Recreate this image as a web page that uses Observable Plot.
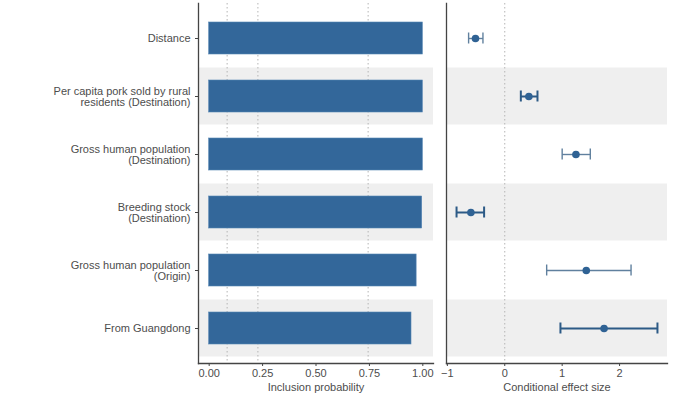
<!DOCTYPE html>
<html>
<head>
<meta charset="utf-8">
<script src="https://cdn.jsdelivr.net/npm/d3@7"></script>
<script src="https://cdn.jsdelivr.net/npm/@observablehq/plot@0.6"></script>
<style>
  html, body { margin: 0; padding: 0; background: #fff; }
  #chart { position: relative; width: 700px; height: 396px; }
  #chart > svg { position: absolute; top: 0; }
</style>
</head>
<body>
<div id="chart"></div>
<script>
// ---- data ----
const categories = [
  "Distance",
  "Per capita pork sold by rural\nresidents (Destination)",
  "Gross human population\n(Destination)",
  "Breeding stock\n(Destination)",
  "Gross human population\n(Origin)",
  "From Guangdong"
];
const inclusionProb = [1.0, 1.0, 1.0, 0.997, 0.971, 0.947];
const effect   = [-0.51, 0.42, 1.24, -0.59, 1.42, 1.73];
const effectLo = [-0.63, 0.28, 1.00, -0.84, 0.73, 0.97];
const effectHi = [-0.38, 0.57, 1.49, -0.36, 2.20, 2.66];
const probTicks = [0, 0.25, 0.5, 0.75, 1];
const probTickLabels = ["0.00", "0.25", "0.50", "0.75", "1.00"];
const effectTicks = [-1, 0, 1, 2];
const effectTickLabels = ["\u22121", "0", "1", "2"];
const probRefLines = [0.084, 0.228, 0.744];
const effectRefLines = [0];
const probDomain = [-0.05, 1.05];
const effectDomain = [-1.015, 2.835];

const rows = categories.map((c, i) => ({
  cat: c, i, p: inclusionProb[i], e: effect[i], lo: effectLo[i], hi: effectHi[i]
}));
const shaded = rows.filter(d => d.i % 2 === 1);

const font = "'Liberation Sans', Arial, Helvetica, sans-serif";
const barColor = "#33679a";
const H = 396, MT = 3, MB = 33;
const yScale = {domain: categories, paddingInner: 0, paddingOuter: 0.1};

const left = Plot.plot({
  width: 440, height: H,
  marginLeft: 198, marginRight: 7, marginTop: MT, marginBottom: MB,
  style: {fontFamily: font, fontSize: "11px", color: "#4d4d4d", background: "transparent"},
  x: {domain: probDomain},
  y: yScale,
  marks: [
    Plot.barX(shaded, {y: "cat", x1: probDomain[0], x2: probDomain[1], fill: "#efefef", insetTop: 0.5, insetBottom: 0.5}),
    Plot.ruleX(probRefLines, {stroke: "#b5b5b5", strokeDasharray: "1.5,2.5", strokeWidth: 1}),
    Plot.barX(rows, {y: "cat", x: "p", fill: barColor, stroke: "#5585b3", strokeWidth: 0.6, insetTop: 13, insetBottom: 13}),
    Plot.axisX({ticks: probTicks, tickFormat: (d, i) => probTickLabels[i], tickSize: 3, tickPadding: 3,
      stroke: "#444", fill: "#4d4d4d", fontSize: 11,
      label: "Inclusion probability", labelAnchor: "center", labelArrow: "none", labelOffset: 27}),
    Plot.axisY({tickSize: 3, tickPadding: 5, stroke: "#444", fill: "#4d4d4d", fontSize: 11, label: null}),
    Plot.frame({anchor: "left", stroke: "#444", strokeWidth: 1.3}),
    Plot.frame({anchor: "bottom", stroke: "#444", strokeWidth: 1.3})
  ]
});
left.style.left = "0px";

const right = Plot.plot({
  width: 260, height: H,
  marginLeft: 6, marginRight: 33, marginTop: MT, marginBottom: MB,
  style: {fontFamily: font, fontSize: "11px", color: "#4d4d4d", background: "transparent"},
  x: {domain: effectDomain},
  y: yScale,
  marks: [
    Plot.barX(shaded, {y: "cat", x1: effectDomain[0], x2: effectDomain[1], fill: "#efefef", insetTop: 0.5, insetBottom: 0.5}),
    Plot.ruleX(effectRefLines, {stroke: "#b5b5b5", strokeDasharray: "1.5,2.5", strokeWidth: 1}),
    Plot.link(rows, {y1: "cat", y2: "cat", x1: "lo", x2: "hi",
      stroke: d => d.i % 2 ? "#2c5a86" : "#60809e", strokeWidth: d => d.i % 2 ? 2 : 1.4}),
    Plot.tickX(rows, {y: "cat", x: "lo", insetTop: 23.5, insetBottom: 23.5,
      stroke: d => d.i % 2 ? "#2c5a86" : "#60809e", strokeWidth: d => d.i % 2 ? 2 : 1.4}),
    Plot.tickX(rows, {y: "cat", x: "hi", insetTop: 23.5, insetBottom: 23.5,
      stroke: d => d.i % 2 ? "#2c5a86" : "#60809e", strokeWidth: d => d.i % 2 ? 2 : 1.4}),
    Plot.dot(rows, {y: "cat", x: "e", r: 3.8, fill: "#2f6294", stroke: "none"}),
    Plot.axisX({ticks: effectTicks, tickFormat: (d, i) => effectTickLabels[i], tickSize: 3, tickPadding: 3,
      stroke: "#444", fill: "#4d4d4d", fontSize: 11,
      label: "Conditional effect size", labelAnchor: "center", labelArrow: "none", labelOffset: 27}),
    Plot.axisY({ticks: [], label: null}),
    Plot.frame({anchor: "left", stroke: "#444", strokeWidth: 1.3}),
    Plot.frame({anchor: "bottom", stroke: "#444", strokeWidth: 1.3})
  ]
});
right.style.left = "440px";

document.getElementById("chart").append(left, right);
</script>
</body>
</html>
